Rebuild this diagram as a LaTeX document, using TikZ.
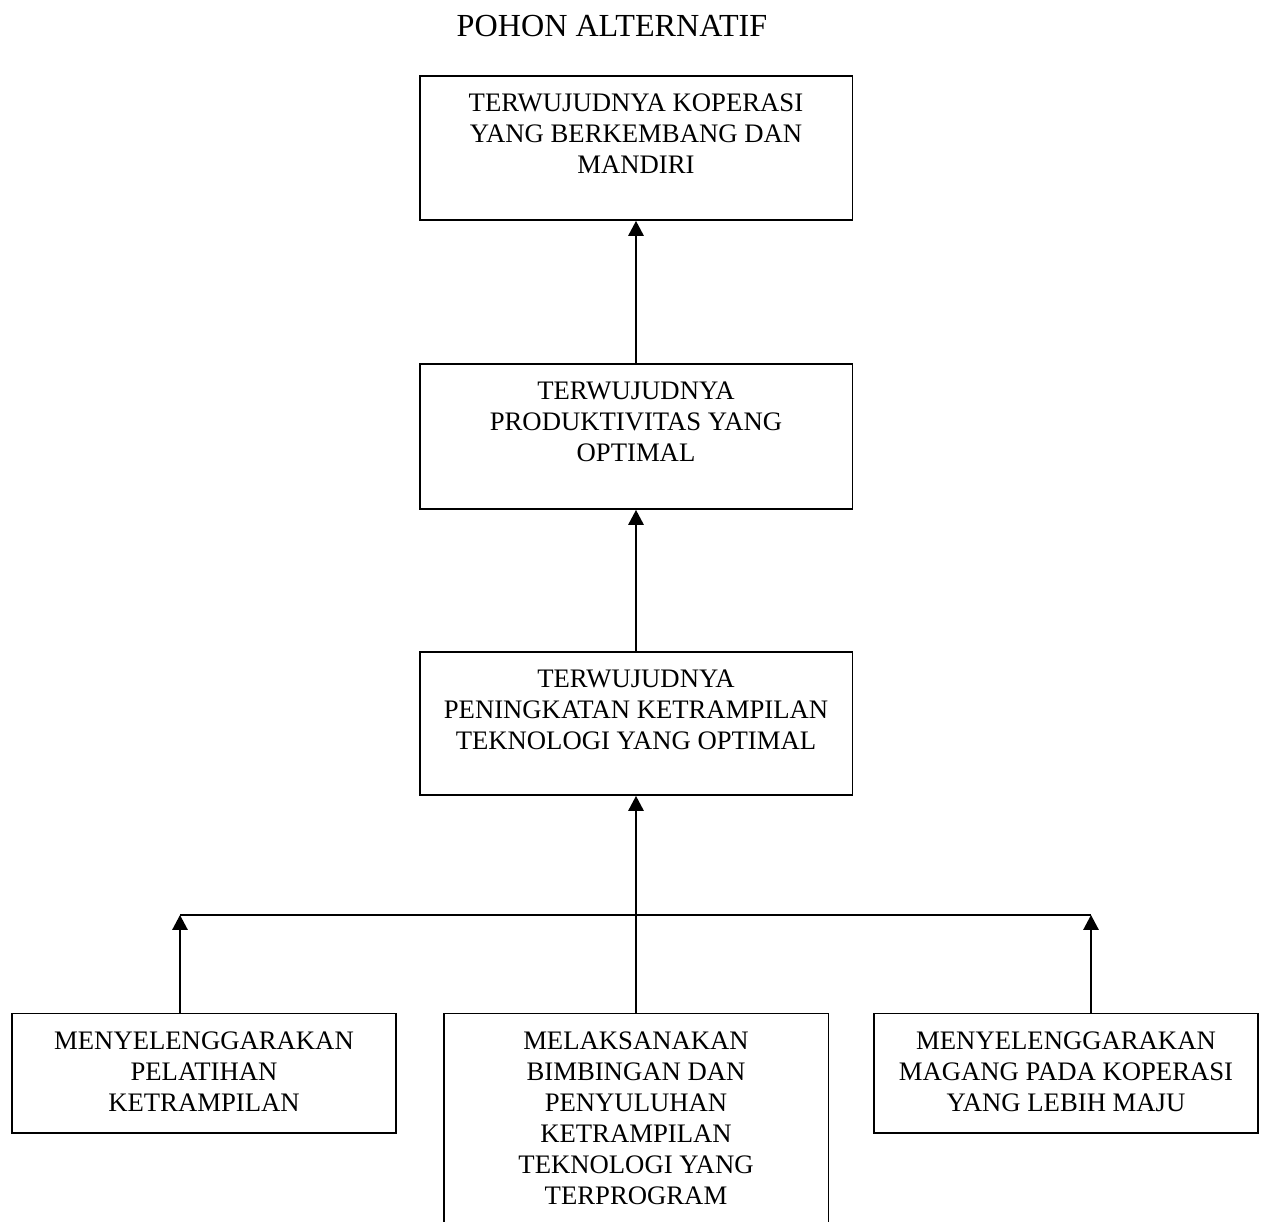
\documentclass[tikz,border=0pt]{standalone}
\usepackage{fontspec}
\setmainfont{Liberation Serif}
\usepackage{tikz}
\usetikzlibrary{arrows.meta}

\newcommand{\isikotak}[3]{\parbox[t][#2][t]{#1}{\centering\rule{0pt}{20.5pt}#3}}

\tikzset{
	kotak/.style={draw, line width=1.1pt, inner sep=0pt, anchor=north, font=\fontsize{15.2pt}{17.6pt}\selectfont},
	panah/.style={line width=1.1pt, -{Triangle[length=8.5pt,width=8.7pt]}},
	garis/.style={line width=1.1pt}
}

\begin{document}
\begin{tikzpicture}[x=0.02cm,y=-0.02cm]
	\useasboundingbox (0,0) rectangle (1267,1222);

	% judul
	\node[anchor=base, inner sep=0pt, font=\fontsize{18.3pt}{21pt}\selectfont] (judul) at (612,37) {POHON ALTERNATIF};

	% kotak
	\node[kotak] (koperasi) at (636,75) {\isikotak{8.66cm}{2.88cm}{TERWUJUDNYA KOPERASI\\YANG BERKEMBANG DAN\\MANDIRI}};
	\node[kotak] (produktivitas) at (636,363) {\isikotak{8.66cm}{2.9cm}{TERWUJUDNYA\\PRODUKTIVITAS YANG\\OPTIMAL}};
	\node[kotak] (ketrampilan) at (636,651) {\isikotak{8.66cm}{2.86cm}{TERWUJUDNYA\\PENINGKATAN KETRAMPILAN\\TEKNOLOGI YANG OPTIMAL}};

	\node[kotak] (pelatihan) at (204,1012.5) {\isikotak{7.68cm}{2.39cm}{MENYELENGGARAKAN\\PELATIHAN\\KETRAMPILAN}};
	\node[kotak] (bimbingan) at (636,1012.5) {\isikotak{7.7cm}{4.4cm}{MELAKSANAKAN\\BIMBINGAN DAN\\PENYULUHAN\\KETRAMPILAN\\TEKNOLOGI YANG\\TERPROGRAM}};
	\node[kotak] (magang) at (1066,1012.5) {\isikotak{7.68cm}{2.39cm}{MENYELENGGARAKAN\\MAGANG PADA KOPERASI\\YANG LEBIH MAJU}};

	% panah
	\coordinate (kiri) at (180,915);
	\coordinate (kanan) at (1091,915);

	\draw[panah] (produktivitas.north) -- (koperasi.south);
	\draw[panah] (ketrampilan.north) -- (produktivitas.south);
	\draw[panah] (bimbingan.north) -- (ketrampilan.south);
	\draw[garis] (kiri) -- (kanan);
	\draw[panah] (pelatihan.north -| kiri) -- (kiri);
	\draw[panah] (magang.north -| kanan) -- (kanan);
\end{tikzpicture}
\end{document}
